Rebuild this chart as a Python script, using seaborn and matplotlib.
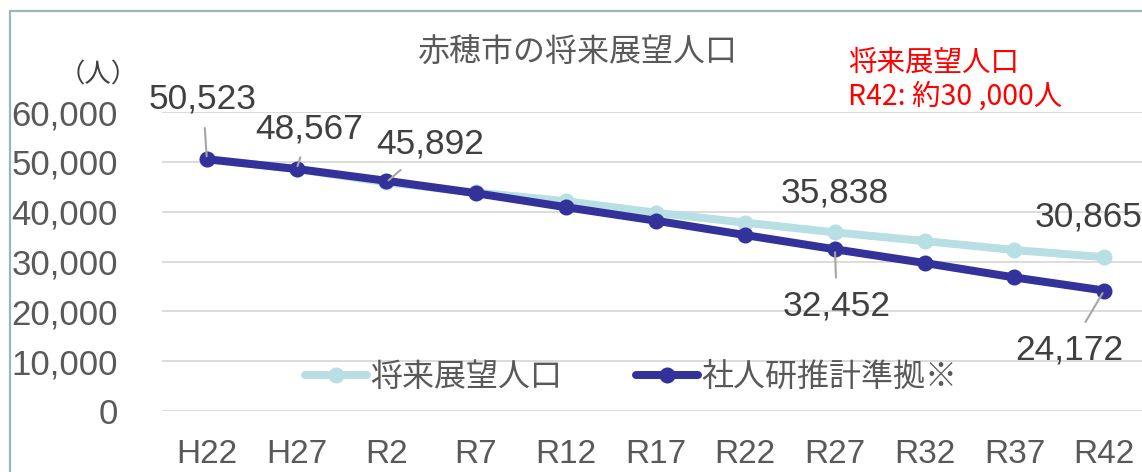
import matplotlib
matplotlib.use("Agg")
import matplotlib.pyplot as plt
import seaborn as sns
import pandas as pd
from matplotlib.patches import Rectangle

# ---- data ----
categories = ["H22", "H27", "R2", "R7", "R12", "R17", "R22", "R27", "R32", "R37", "R42"]
vision = [50523, 48567, 45892, 43850, 42100, 39800, 37800, 35838, 34100, 32300, 30865]
ipss = [50523, 48567, 46200, 43700, 40900, 38200, 35300, 32452, 29700, 26800, 24172]
series_names = ["将来展望人口", "社人研推計準拠※"]
yticks = [0, 10000, 20000, 30000, 40000, 50000, 60000]
title = "赤穂市の将来展望人口"
unit_label = "（人）"
note_lines = ["将来展望人口", "R42: 約30 ,000人"]

# which points carry data labels (series, index) with pixel offsets of the label centre
label_specs = [
    ("ipss", 0, -4, 60, True),
    ("ipss", 1, 13, 40, True),
    ("vision", 2, 44, 38, True),
    ("vision", 7, 0, 39, False),
    ("vision", 10, -16, 40, False),
    ("ipss", 7, 2, -57, True),
    ("ipss", 10, -35, -59, True),
]

sns.set_theme(style="white")
plt.rcParams["font.family"] = ["Liberation Sans", "Noto Sans CJK JP", "DejaVu Sans"]
CJK = ["Noto Sans CJK JP", "DejaVu Sans"]

W, H = 1142, 472
fig = plt.figure(figsize=(W / 100, H / 100), dpi=100)
px = lambda v: v * 0.72  # pixels -> points

left, right, top, bottom = 162, 1149, 112, 411
ax = fig.add_axes([left / W, 1 - bottom / H, (right - left) / W, (bottom - top) / H])

light = "#B8DFE3"
dark = "#32329A"

df = pd.DataFrame({"cat": categories, "vision": vision, "ipss": ipss})
df["x"] = range(len(categories))

sns.lineplot(data=df, x="x", y="vision", ax=ax, color=light, lw=px(8), marker="o",
             markersize=px(16), markeredgewidth=0, label=series_names[0], zorder=3)
sns.lineplot(data=df, x="x", y="ipss", ax=ax, color=dark, lw=px(8), marker="o",
             markersize=px(16), markeredgewidth=0, label=series_names[1], zorder=4)

ax.set_xlim(-0.5, len(categories) - 0.5)
ax.set_ylim(0, 60000)
ax.set_yticks(yticks)
ax.set_yticklabels([f"{v:,}" for v in yticks])
ax.set_xticks(range(len(categories)))
ax.set_xticklabels(categories)
ax.set_xlabel("")
ax.set_ylabel("")
for s in ax.spines.values():
    s.set_visible(False)
ax.grid(axis="y", color="#D9D9D9", lw=1.3)
ax.grid(axis="x", visible=False)
ax.tick_params(axis="y", labelsize=25, labelcolor="#595959", pad=px(44), length=0)
ax.tick_params(axis="x", labelsize=24, labelcolor="#595959", pad=px(28), length=0)

# data labels
data = {"vision": vision, "ipss": ipss}
for ser, i, dx, dy, leader in label_specs:
    v = data[ser][i]
    kw = {}
    if leader:
        kw["arrowprops"] = dict(arrowstyle="-", color="#A6A6A6", lw=1.5, shrinkA=px(9), shrinkB=px(3))
    ax.annotate(f"{v:,}", xy=(i, v), xytext=(px(dx), px(dy)), textcoords="offset points",
                ha="center", va="center", fontsize=25.5, color="#404040", zorder=6,
                annotation_clip=False, **kw)

leg = ax.legend(loc="center", bbox_to_anchor=((631 - left) / (right - left), (bottom - 377) / (bottom - top)),
                ncol=2, frameon=False, prop={"family": CJK, "size": 23}, handlelength=1.95,
                handletextpad=0.1, columnspacing=2.3, borderaxespad=0)
for t in leg.get_texts():
    t.set_color("#595959")

fig.text(578 / W, 1 - 52 / H, title, ha="center", va="center", fontsize=23,
         color="#595959", family=CJK)
fig.text(98 / W, 1 - 75 / H, unit_label, ha="center", va="center", fontsize=19,
         color="#404040", family=CJK)
fig.text(848 / W, 1 - 62 / H, note_lines[0], ha="left", va="center", fontsize=20.5,
         color="#FF0000", family=CJK)
fig.text(848 / W, 1 - 97 / H, note_lines[1], ha="left", va="center", fontsize=20.5,
         color="#FF0000", family=CJK)

fig.patches.append(Rectangle((10 / W, -0.1), 1.2, 1 - 11 / H + 0.1, transform=fig.transFigure,
                             fill=False, edgecolor="#9FB4B8", lw=1.6, figure=fig))

fig.savefig("out.png", dpi=100)
